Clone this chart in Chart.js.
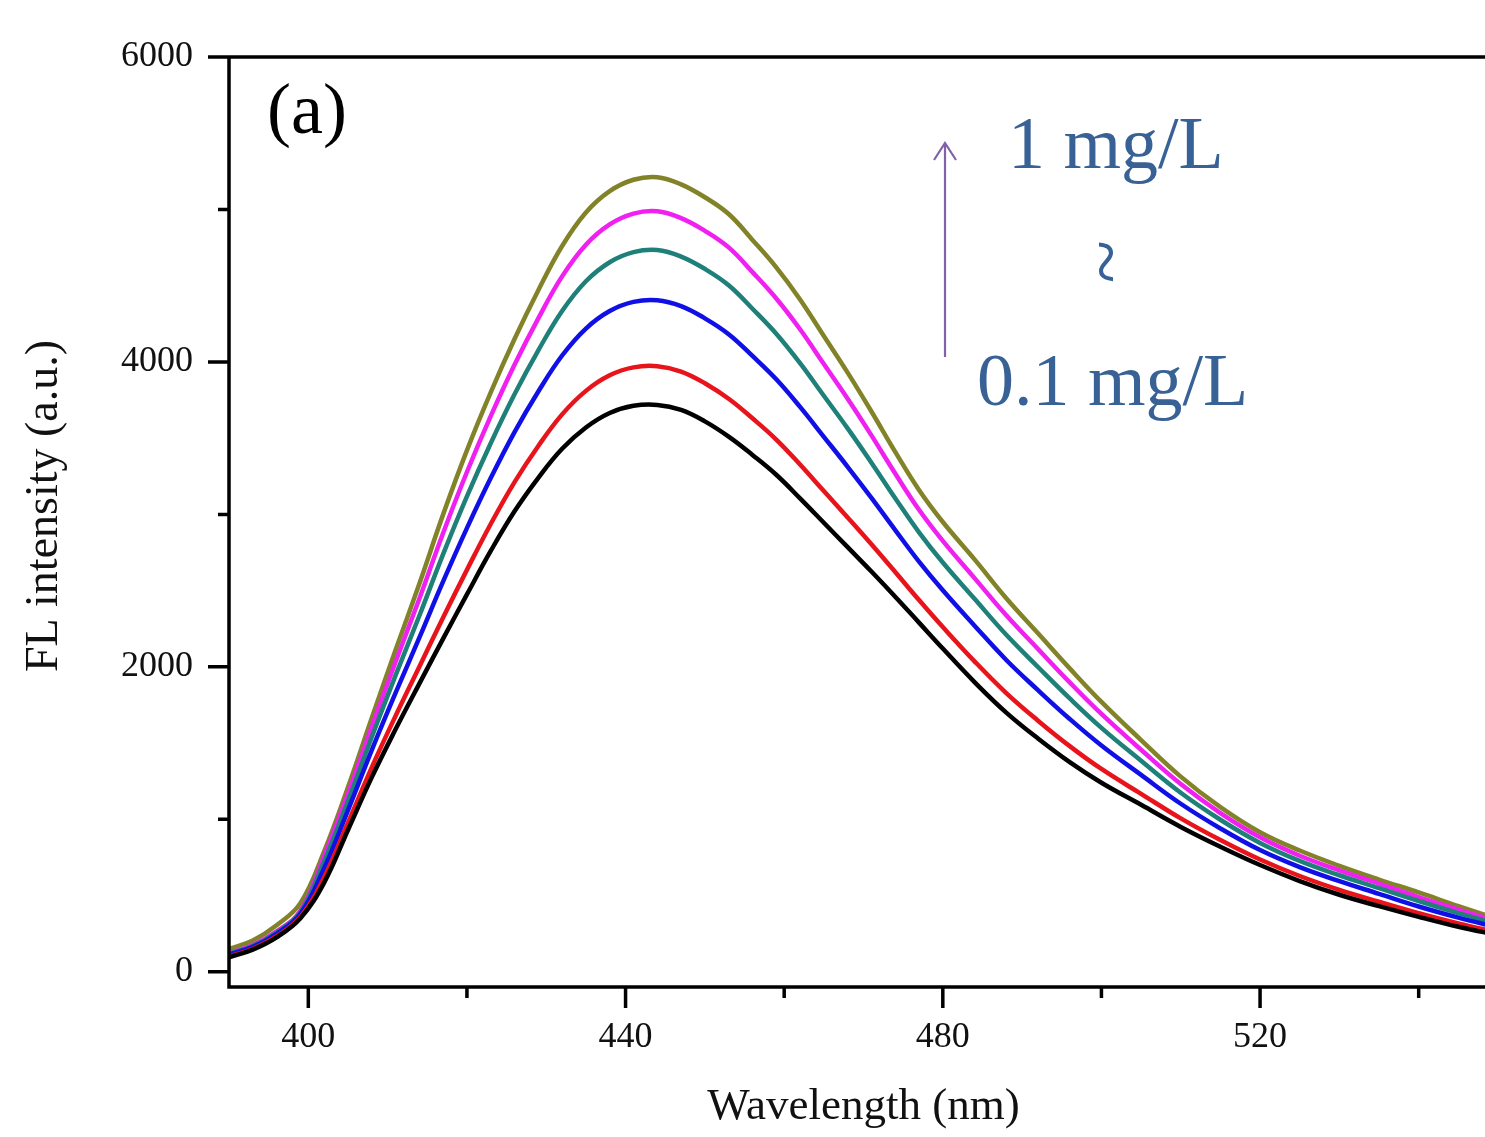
<!DOCTYPE html>
<html>
<head>
<meta charset="utf-8">
<script src="https://cdn.jsdelivr.net/npm/chart.js@4"></script>
<style>
  html, body { margin: 0; padding: 0; background: #fff; overflow: hidden; }
  #wrap { width: 1485px; height: 1137px; overflow: hidden; }
</style>
</head>
<body>
<div id="wrap"><canvas id="flChart" width="1510" height="1137"></canvas></div>
<script>
// emission spectra, 0.1 mg/L (black) up to 1 mg/L (olive)
const wavelength = [390, 393, 396, 399, 402, 405, 408, 411, 414, 417, 420, 423, 426, 429, 432, 435, 438, 441, 444, 447,
  450, 453, 456, 459, 462, 465, 468, 471, 474, 477, 480, 484, 488, 492, 496, 500, 505, 510, 515, 520, 525, 530, 535, 540, 545, 550];

const black = [95, 145, 225, 350, 585, 930, 1275, 1590, 1890, 2185, 2475, 2760, 3020, 3240, 3430, 3570, 3665, 3712, 3718, 3685,
  3610, 3510, 3390, 3260, 3105, 2945, 2785, 2625, 2460, 2290, 2120, 1900, 1700, 1530, 1375, 1240, 1095, 950, 820, 700, 595, 505, 430, 360, 295, 240];
const red = [100, 151, 233, 360, 620, 978, 1341, 1678, 2001, 2324, 2636, 2937, 3212, 3449, 3656, 3810, 3912, 3964, 3972, 3937,
  3860, 3758, 3630, 3491, 3327, 3153, 2980, 2804, 2622, 2438, 2261, 2036, 1828, 1647, 1480, 1330, 1167, 1006, 864, 736, 628, 537, 459, 384, 317, 258];
const blue = [112, 163, 249, 380, 679, 1059, 1454, 1829, 2191, 2560, 2910, 3238, 3540, 3806, 4042, 4219, 4334, 4394, 4405, 4366,
  4286, 4182, 4039, 3886, 3705, 3509, 3312, 3108, 2897, 2690, 2502, 2270, 2045, 1847, 1658, 1484, 1291, 1102, 940, 798, 686, 594, 511, 428, 355, 290];
const teal = [117, 169, 257, 390, 724, 1120, 1540, 1944, 2335, 2739, 3118, 3467, 3788, 4076, 4334, 4529, 4654, 4720, 4734, 4691,
  4610, 4503, 4349, 4185, 3992, 3778, 3564, 3339, 3106, 2882, 2684, 2446, 2210, 1999, 1793, 1600, 1384, 1174, 997, 845, 727, 633, 549, 464, 385, 312];
const magenta = [122, 175, 265, 400, 759, 1168, 1607, 2032, 2447, 2878, 3278, 3644, 3981, 4286, 4561, 4769, 4902, 4973, 4988, 4943,
  4860, 4751, 4589, 4416, 4214, 3986, 3758, 3518, 3268, 3030, 2826, 2582, 2338, 2117, 1898, 1691, 1456, 1231, 1041, 882, 761, 665, 578, 490, 408, 327];
const olive = [150, 205, 305, 450, 790, 1210, 1665, 2110, 2545, 3000, 3420, 3800, 4150, 4470, 4760, 4980, 5120, 5195, 5212, 5165,
  5080, 4970, 4800, 4620, 4410, 4170, 3930, 3675, 3410, 3160, 2950, 2705, 2450, 2220, 1990, 1770, 1520, 1280, 1080, 915, 795, 695, 605, 520, 430, 345];

const yMajor = [0, 2000, 4000, 6000];
const yMinor = [1000, 3000, 5000];
const xMajor = [400, 440, 480, 520];
const xMinor = [420, 460, 500, 540];

const serif = '"Liberation Serif", "Times New Roman", serif';

function series(data, color) {
  return {
    data: data,
    borderColor: color,
    borderWidth: 4.5,
    pointRadius: 0,
    fill: false,
    tension: 0.4
  };
}

// Origin-style frame: thick box, outward ticks, plus the text notes
const frame = {
  id: 'frame',
  afterDatasetsDraw(chart) {
    const {ctx, chartArea: a, scales: {x, y}} = chart;
    ctx.save();
    ctx.strokeStyle = '#000';
    ctx.lineWidth = 3.5;
    ctx.beginPath();
    ctx.moveTo(a.left, a.bottom + 1.75); ctx.lineTo(a.left, a.top - 1.75);
    ctx.moveTo(a.left, a.top); ctx.lineTo(a.right, a.top);
    ctx.moveTo(a.left, a.bottom); ctx.lineTo(a.right, a.bottom);
    ctx.moveTo(a.right, a.top); ctx.lineTo(a.right, a.bottom);
    yMajor.forEach(v => { const p = y.getPixelForValue(v); ctx.moveTo(a.left - 21, p); ctx.lineTo(a.left, p); });
    yMinor.forEach(v => { const p = y.getPixelForValue(v); ctx.moveTo(a.left - 11, p); ctx.lineTo(a.left, p); });
    xMajor.forEach(v => { const p = x.getPixelForValue(v); ctx.moveTo(p, a.bottom); ctx.lineTo(p, a.bottom + 21); });
    xMinor.forEach(v => { const p = x.getPixelForValue(v); ctx.moveTo(p, a.bottom); ctx.lineTo(p, a.bottom + 11); });
    ctx.stroke();

    // y axis title
    ctx.fillStyle = '#111';
    ctx.save();
    ctx.translate(45, 506);
    ctx.rotate(-Math.PI / 2);
    ctx.font = '46px ' + serif;
    ctx.textAlign = 'center';
    ctx.textBaseline = 'middle';
    ctx.fillText('FL intensity (a.u.)', 0, 0);
    ctx.restore();

    ctx.fillStyle = '#000';
    ctx.font = '72px ' + serif;
    ctx.textAlign = 'left';
    ctx.textBaseline = 'alphabetic';
    ctx.fillText('(a)', 267, 133);

    ctx.fillStyle = '#386296';
    ctx.font = '74px ' + serif;
    ctx.fillText('1 mg/L', 1008, 168);
    ctx.fillText('0.1 mg/L', 977, 405);
    ctx.save();
    ctx.translate(1100, 262);
    ctx.rotate(Math.PI / 2);
    ctx.font = '80px ' + serif;
    ctx.textAlign = 'center';
    ctx.textBaseline = 'middle';
    ctx.fillText('~', 0, 0);
    ctx.restore();

    ctx.strokeStyle = '#8062a8';
    ctx.lineWidth = 2.2;
    ctx.beginPath();
    ctx.moveTo(945, 357); ctx.lineTo(945, 143);
    ctx.moveTo(934, 160); ctx.lineTo(945, 143); ctx.lineTo(956, 160);
    ctx.stroke();
    ctx.restore();
  }
};

new Chart(document.getElementById('flChart'), {
  type: 'line',
  data: {
    labels: wavelength,
    datasets: [
      series(black, '#000000'),
      series(red, '#e8141c'),
      series(blue, '#1010e6'),
      series(teal, '#1e8078'),
      series(magenta, '#f020f0'),
      series(olive, '#828228')
    ]
  },
  options: {
    responsive: false,
    animation: false,
    events: [],
    layout: { padding: { top: 57, right: 12, left: 0, bottom: 0 } },
    plugins: { legend: { display: false }, tooltip: { enabled: false } },
    scales: {
      x: {
        type: 'linear',
        min: 390,
        max: 550,
        afterFit: s => { s.height = 150; },
        afterBuildTicks: s => { s.ticks = xMajor.map(v => ({ value: v })); },
        grid: { display: false },
        border: { display: false },
        ticks: { color: '#111', padding: 21, maxRotation: 0, font: { family: serif, size: 36 }, callback: v => String(v) },
        title: { display: true, text: 'Wavelength (nm)', color: '#111', padding: { top: 0, bottom: 3 }, font: { family: serif, size: 45 } }
      },
      y: {
        min: -100,
        max: 6000,
        afterFit: s => { s.width = 229; },
        afterBuildTicks: s => { s.ticks = yMajor.map(v => ({ value: v })); },
        grid: { display: false },
        border: { display: false },
        ticks: { color: '#111', padding: 28, font: { family: serif, size: 36 }, callback: v => String(v) }
      }
    }
  },
  plugins: [frame]
});
</script>
</body>
</html>
